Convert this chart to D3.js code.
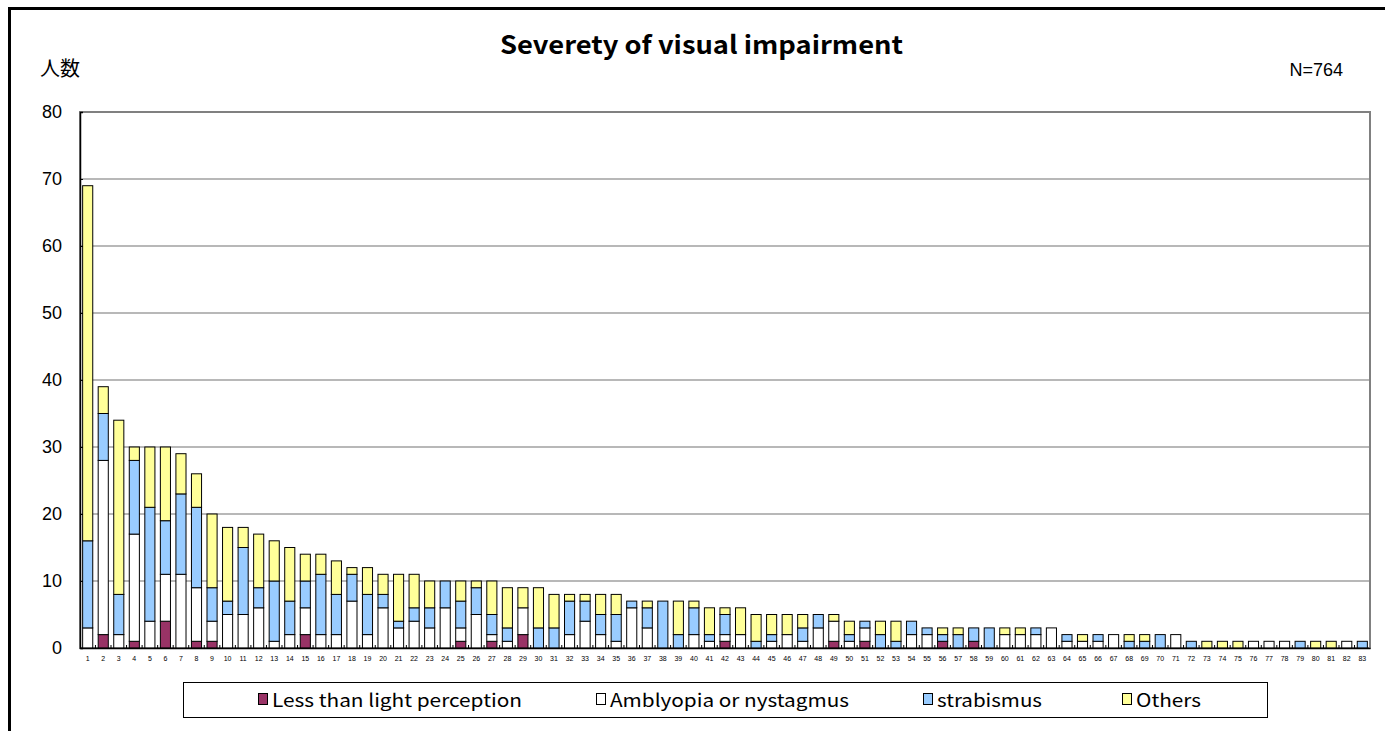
<!DOCTYPE html>
<html>
<head>
<meta charset="utf-8">
<script src="https://cdn.jsdelivr.net/npm/d3@7"></script>
<style>
  body { margin: 0; background: #fff; }
  svg { display: block; }
</style>
</head>
<body>
<div id="chart"></div>
<script>
(function() {
  'use strict';

  // Data: 83 ranked groups, count of people per category
  const categories = d3.range(1, 84).map(String);

  const lessThanLight = [0,2,0,1,0,4,0,1,1,0, 0,0,0,0,2,0,0,0,0,0, 0,0,0,0,1,0,1,0,2,0,
    0,0,0,0,0,0,0,0,0,0, 0,1,0,0,0,0,0,0,1,0, 1,0,0,0,0,1,0,1,0,0,
    0,0,0,0,0,0,0,0,0,0, 0,0,0,0,0,0,0,0,0,0, 0,0,0];
  const amblyopia = [3,26,2,16,4,7,11,8,3,5, 5,6,1,2,4,2,2,7,2,6, 3,4,3,6,2,5,1,1,4,0,
    0,2,4,2,1,6,3,0,0,2, 1,1,2,0,1,2,1,3,3,1, 2,0,0,2,2,0,0,0,0,2,
    2,2,3,1,1,1,2,0,0,0, 2,0,0,0,0,1,1,1,0,0, 0,1,0];
  const strabismus = [13,7,6,11,17,8,12,12,5,2, 10,3,9,5,4,9,6,4,6,2, 1,2,3,4,4,4,3,2,0,3,
    3,5,3,3,4,1,3,7,2,4, 1,3,0,1,1,0,2,2,0,1, 1,2,1,2,1,1,2,2,3,0,
    0,1,0,1,0,1,0,1,1,2, 0,1,0,0,0,0,0,0,1,0, 0,0,1];
  const others = [53,4,26,2,9,11,6,5,11,11, 3,8,6,8,4,3,5,1,4,3, 7,5,4,0,3,1,5,6,3,6,
    5,1,1,3,3,0,1,0,5,1, 4,1,4,4,3,3,2,0,1,2, 0,2,3,0,0,1,1,0,0,1,
    1,0,0,0,1,0,0,1,1,0, 0,0,1,1,1,0,0,0,0,1, 1,0,0];

  const seriesNames = ['Less than light perception', 'Amblyopia or nystagmus', 'strabismus', 'Others'];
  const seriesColors = ['#993366', '#ffffff', '#99ccff', '#ffff99'];
  const yTicks = [0, 10, 20, 30, 40, 50, 60, 70, 80];

  const width = 1385, height = 731;
  const plot = { left: 80, top: 112, right: 1370, bottom: 648 };
  const font = 'Noto Sans CJK JP, sans-serif';

  const svg = d3.select('#chart')
    .append('svg')
    .attr('width', width)
    .attr('height', height);

  // Outer frame
  svg.append('rect')
    .attr('x', 9.5).attr('y', 8.5)
    .attr('width', 1400).attr('height', 760)
    .attr('fill', 'none')
    .attr('stroke', '#000')
    .attr('stroke-width', 3);

  const table = categories.map((c, i) => ({
    cat: c,
    s0: lessThanLight[i], s1: amblyopia[i], s2: strabismus[i], s3: others[i]
  }));
  const stacked = d3.stack().keys(['s0', 's1', 's2', 's3'])(table);

  const x = d3.scaleBand()
    .domain(categories)
    .range([plot.left, plot.right])
    .paddingInner(0.35)
    .paddingOuter(0.17);

  const y = d3.scaleLinear()
    .domain([0, 80])
    .range([plot.bottom, plot.top]);

  // Gridlines
  svg.append('g')
    .selectAll('line')
    .data(yTicks.slice(1))
    .join('line')
    .attr('x1', plot.left).attr('x2', plot.right)
    .attr('y1', d => y(d)).attr('y2', d => y(d))
    .attr('stroke', '#a0a0a0')
    .attr('stroke-width', 1.5);

  // Plot frame
  svg.append('rect')
    .attr('x', plot.left).attr('y', plot.top)
    .attr('width', plot.right - plot.left)
    .attr('height', plot.bottom - plot.top)
    .attr('fill', 'none')
    .attr('stroke', '#808080')
    .attr('stroke-width', 2);

  // Bars
  svg.append('g')
    .selectAll('g')
    .data(stacked)
    .join('g')
    .attr('fill', (d, i) => seriesColors[i])
    .selectAll('rect')
    .data(d => d.filter(p => p[1] > p[0]))
    .join('rect')
    .attr('x', d => x(d.data.cat))
    .attr('width', x.bandwidth())
    .attr('y', d => y(d[1]))
    .attr('height', d => y(d[0]) - y(d[1]))
    .attr('stroke', '#000')
    .attr('stroke-width', 1);

  // Y axis
  const yAxis = svg.append('g')
    .attr('transform', `translate(${plot.left},0)`)
    .call(d3.axisLeft(y).tickValues(yTicks).tickSize(-3).tickPadding(18));
  yAxis.select('.domain').attr('stroke', '#000').attr('stroke-width', 1.5);
  yAxis.selectAll('.tick line').attr('stroke', '#000');
  yAxis.selectAll('text')
    .attr('font-family', 'Liberation Sans, Arial, sans-serif')
    .attr('font-size', '18px')
    .attr('fill', '#000');

  // X axis
  const xAxis = svg.append('g')
    .attr('transform', `translate(0,${plot.bottom})`)
    .call(d3.axisBottom(x).tickSize(0).tickPadding(8));
  xAxis.select('.domain').attr('stroke', '#000').attr('stroke-width', 1.5);
  xAxis.selectAll('text')
    .attr('font-family', 'Liberation Sans, Arial, sans-serif')
    .attr('font-size', '7px')
    .attr('fill', '#000');
  // small tick marks between categories
  svg.append('g')
    .selectAll('line')
    .data(categories.slice(1))
    .join('line')
    .attr('x1', d => x(d) - x.step() * x.paddingInner() / 2)
    .attr('x2', d => x(d) - x.step() * x.paddingInner() / 2)
    .attr('y1', plot.bottom - 3).attr('y2', plot.bottom)
    .attr('stroke', '#000');

  // Titles
  svg.append('text')
    .attr('x', 500).attr('y', 54)
    .attr('font-family', font)
    .attr('font-size', '25px')
    .attr('font-weight', 'bold')
    .attr('textLength', 403)
    .attr('lengthAdjust', 'spacingAndGlyphs')
    .text('Severety of visual impairment');

  svg.append('text')
    .attr('x', 40).attr('y', 76)
    .attr('font-family', font)
    .attr('font-size', '20px')
    .text('人数');

  svg.append('text')
    .attr('x', 1343).attr('y', 76)
    .attr('text-anchor', 'end')
    .attr('font-family', 'Liberation Sans, Arial, sans-serif')
    .attr('font-size', '18px')
    .text('N=764');

  // Legend
  const legend = svg.append('g');
  legend.append('rect')
    .attr('x', 183.5).attr('y', 682.5)
    .attr('width', 1084).attr('height', 35)
    .attr('fill', '#fff')
    .attr('stroke', '#000');

  const legendX = [258, 596, 923, 1122];
  const legendTextW = [250, 239, 105, 65];
  const item = legend.selectAll('g.item')
    .data(seriesNames)
    .join('g')
    .attr('class', 'item')
    .attr('transform', (d, i) => `translate(${legendX[i]},700)`);
  item.append('rect')
    .attr('x', 0.5).attr('y', -6.5)
    .attr('width', 9).attr('height', 11)
    .attr('fill', (d, i) => seriesColors[i])
    .attr('stroke', '#000');
  item.append('text')
    .attr('x', 14).attr('y', 7)
    .attr('font-family', font)
    .attr('font-size', '18px')
    .attr('textLength', (d, i) => legendTextW[i])
    .attr('lengthAdjust', 'spacingAndGlyphs')
    .text(d => d);
})();
</script>
</body>
</html>
